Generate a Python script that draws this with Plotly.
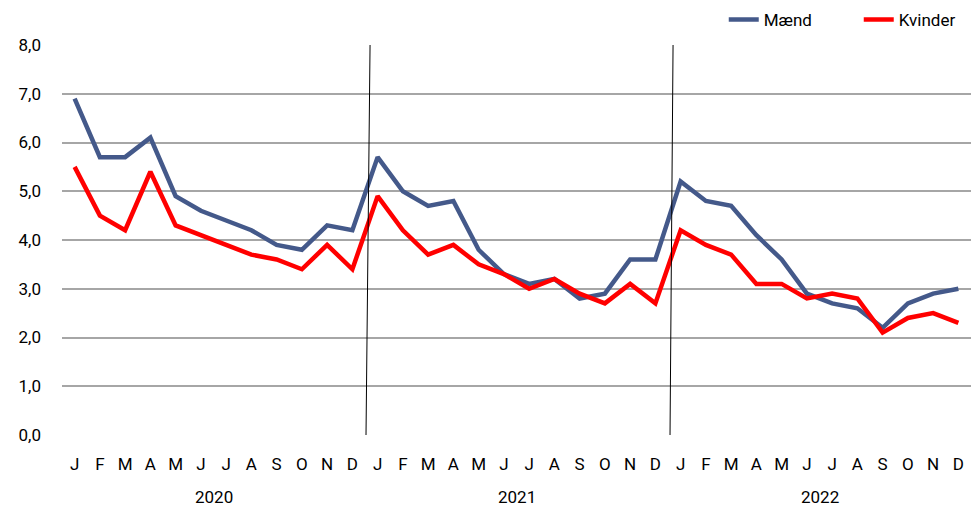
import plotly.graph_objects as go

months = ["J", "F", "M", "A", "M", "J", "J", "A", "S", "O", "N", "D"]
years = ["2020", "2021", "2022"]
maend = [6.9, 5.7, 5.7, 6.1, 4.9, 4.6, 4.4, 4.2, 3.9, 3.8, 4.3, 4.2,
         5.7, 5.0, 4.7, 4.8, 3.8, 3.3, 3.1, 3.2, 2.8, 2.9, 3.6, 3.6,
         5.2, 4.8, 4.7, 4.1, 3.6, 2.9, 2.7, 2.6, 2.2, 2.7, 2.9, 3.0]
kvinder = [5.5, 4.5, 4.2, 5.4, 4.3, 4.1, 3.9, 3.7, 3.6, 3.4, 3.9, 3.4,
           4.9, 4.2, 3.7, 3.9, 3.5, 3.3, 3.0, 3.2, 2.9, 2.7, 3.1, 2.7,
           4.2, 3.9, 3.7, 3.1, 3.1, 2.8, 2.9, 2.8, 2.1, 2.4, 2.5, 2.3]

labels = months * len(years)
x = list(range(len(labels)))

FONT = "Liberation Sans Narrow, Arial Narrow, Roboto, Liberation Sans, sans-serif"

fig = go.Figure()
fig.add_trace(go.Scatter(x=x, y=maend, mode="lines", name="Mænd",
                         line=dict(color="#44598a", width=4.5)))
fig.add_trace(go.Scatter(x=x, y=kvinder, mode="lines", name="Kvinder",
                         line=dict(color="#ff0000", width=4.5)))

# year separators (slightly slanted as in the original)
for b0, b1 in [(11.54, 11.70), (23.58, 23.70)]:
    fig.add_shape(type="line", xref="x", yref="y", x0=b0, x1=b1,
                  y0=0, y1=8, line=dict(color="black", width=1))

for i, yr in enumerate(years):
    fig.add_annotation(x=i * 12 + 5.5, y=-0.159, xref="x", yref="paper",
                       text=yr, showarrow=False, yanchor="middle",
                       font=dict(size=17, color="black", family=FONT))

fig.update_layout(
    width=971, height=513,
    margin=dict(l=62, r=0, t=45, b=78, autoexpand=False),
    plot_bgcolor="white", paper_bgcolor="white",
    separators=",.",
    font=dict(family=FONT, size=17, color="black"),
    legend=dict(orientation="h", x=0.728, xanchor="left", y=1.064, yanchor="middle",
                font=dict(size=17), entrywidth=90, entrywidthmode="pixels",
                bgcolor="rgba(0,0,0,0)"),
    xaxis=dict(tickmode="array", tickvals=x, ticktext=labels,
               range=[-0.5, len(labels) - 0.5], showgrid=False,
               showline=False, zeroline=False, ticks="", ticklen=0,
               ticklabelstandoff=17),
    yaxis=dict(range=[0, 8], dtick=1, tickformat=".1f", showgrid=True,
               gridcolor="#a6a6a6", gridwidth=1.5, zeroline=False,
               showline=False, ticks="", ticklabelstandoff=20),
)

fig.write_html("out.html", config={"displayModeBar": False},
               post_script="document.body.style.margin='0';document.body.style.overflow='hidden';")
